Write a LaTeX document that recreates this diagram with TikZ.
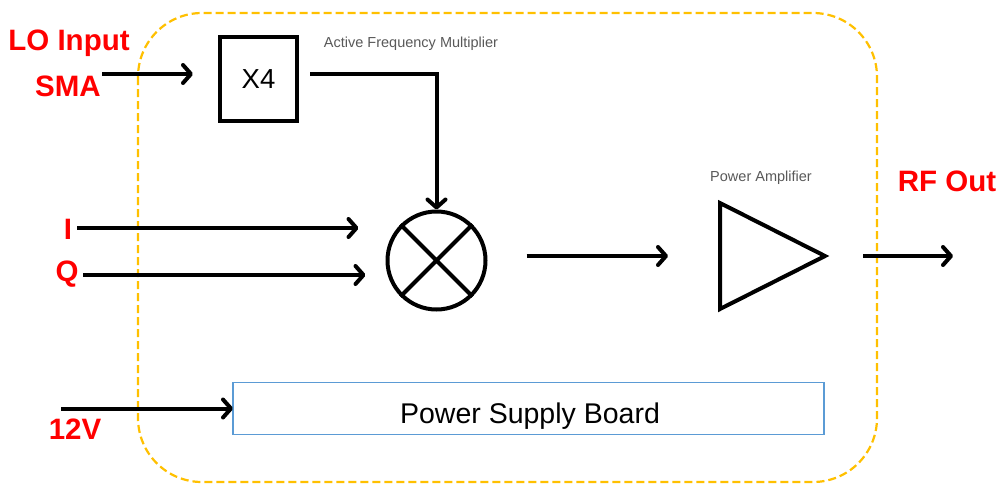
\documentclass[tikz,border=0pt]{standalone}
\usepackage{fontspec}
\setmainfont{Liberation Sans}
\usetikzlibrary{arrows.meta}
\definecolor{lored}{HTML}{FF0000}
\definecolor{frameorange}{HTML}{FFC000}
\definecolor{psblue}{HTML}{5B9BD5}
\definecolor{captiongray}{HTML}{595959}
\tikzset{
  sig/.style={line width=4pt, -{Straight Barb[length=8pt,width=18pt,round]}},
  blk/.style={draw, line width=4pt, inner sep=0pt, outer sep=2pt},
  redlbl/.style={text=lored, font=\bfseries\fontsize{29.5}{30}\selectfont, inner sep=0pt},
  captxt/.style={text=captiongray, font=\fontsize{14.5}{16}\selectfont, inner sep=0pt},
  framebox/.style={draw=frameorange, line width=2.2pt, dash pattern=on 8pt off 4pt, rounded corners=64pt}
}
\begin{document}
\begin{tikzpicture}[x=1pt,y=-1pt]
\useasboundingbox (0,0) rectangle (1001,483);
\fill[white] (0,0) rectangle (1001,483);
% frame
\draw[framebox] (138,13) rectangle (877,482);
% blocks
\node[blk, minimum width=77pt, minimum height=84pt, font=\fontsize{27.5}{28}\selectfont] (x4) at (258.5,79) {X4};
\node[blk, circle, minimum size=98pt] (mixer) at (436.5,260.5) {};
\draw[line width=4pt] (mixer.45) -- (mixer.225) (mixer.135) -- (mixer.315);
\node[inner sep=0pt, outer sep=0pt, minimum width=105pt, minimum height=106pt] (pa) at (772.5,256) {};
\draw[line width=4pt, line join=miter] (pa.north west) -- (pa.east) -- (pa.south west) -- cycle;
\node[draw=psblue, line width=1.5pt, minimum width=591pt, minimum height=52pt, inner sep=0pt, outer sep=0pt] (psb) at (528.5,408.5) {};
\node[anchor=base, inner sep=0pt, font=\fontsize{28.5}{30}\selectfont] (psbtxt) at (530,423) {Power Supply Board};
% captions
\node[captxt] (afm) at (411,44) {Active Frequency Multiplier};
\node[captxt] (pacap) at (761,178) {Power Amplifier};
% red labels
\node[redlbl] (lo) at (69,43) {LO Input};
\node[redlbl] (sma) at (68,86) {SMA};
\node[redlbl] (il) at (68,229) {I};
\node[redlbl] (ql) at (67,274) {Q};
\node[redlbl] (v12) at (75,429) {12V};
\node[redlbl] (rf) at (947,181) {RF Out};
% free ends
\coordinate (loin) at (102,74);
\coordinate (iin) at (77,228);
\coordinate (qin) at (83,275);
\coordinate (v12in) at (61,408.5);
\coordinate (rfout) at (953,256);
% connectors
\draw[sig, shorten >=25pt] (loin) -- (x4.west |- loin);
\draw[sig, line join=miter, shorten <=11pt] (x4.east |- loin) -| (mixer.north);
\draw[sig, shorten >=27pt] (iin) -- (iin -| mixer.west);
\draw[sig, shorten >=20pt] (qin) -- (qin -| mixer.west);
\draw[sig, shorten <=39pt, shorten >=52pt] (mixer.east |- pa.west) -- (pa.west);
\draw[sig, shorten <=38pt] (pa.east) -- (rfout);
\draw[sig] (v12in) -- (psb.west);
\end{tikzpicture}
\end{document}
